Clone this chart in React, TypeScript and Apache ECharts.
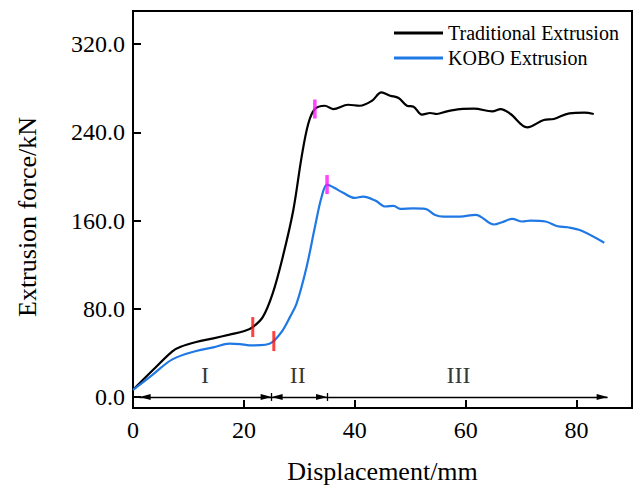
import React, { useEffect, useRef } from "react";
import * as echarts from "echarts";

// ---- data ----
const traditionalExtrusion: [number, number][] = [
  [0, 6.5], [3.5, 24], [7.1, 41.4], [8.6, 45.5], [11.4, 49.8], [14.5, 53.2],
  [17.4, 56.5], [20.1, 59.8], [21.6, 63.4], [23.4, 72.4], [25.2, 94],
  [27.0, 126.8], [28.9, 169.1], [30.4, 217.3], [31.6, 247.6], [32.8, 261.1],
  [34.6, 264.1], [36.1, 261.1], [38.8, 265.0], [40.9, 264.1], [43.1, 268.6],
  [44.8, 276.2], [46.4, 273.2], [47.9, 271.1], [49.4, 264.1], [50.6, 263.2],
  [52.1, 256.0], [53.6, 257.5], [54.8, 256.6], [56.6, 259.0], [59.0, 261.1],
  [61.5, 261.5], [64.8, 259.0], [66.3, 261.1], [68.1, 256.6], [71.1, 244.5],
  [74.1, 251.2], [75.9, 252.1], [78.7, 257.2], [81.4, 257.8], [83.1, 256.6],
];

const koboExtrusion: [number, number][] = [
  [0, 6.5], [3.5, 20], [7.1, 34.1], [11.4, 41.7], [14.5, 45], [17.4, 48.3],
  [19.3, 48.0], [21.0, 46.8], [23.0, 47.0], [24.6, 48.3], [25.5, 51.3],
  [27.0, 60.4], [28.3, 72.4], [29.5, 84.6], [31.3, 117.7], [32.8, 153.9],
  [34.0, 181.1], [35.0, 192.6], [36.1, 190.2], [37.9, 185.1], [40.0, 180.5],
  [41.5, 181.7], [43.7, 178.1], [45.5, 172.7], [47.0, 173.3], [48.2, 170.6],
  [50.5, 171.0], [52.7, 170.6], [54.5, 165.0], [56.0, 163.5], [59.0, 163.6],
  [61.8, 165.2], [65.1, 156.4], [66.6, 158.5], [68.4, 161.5], [70.2, 159.1],
  [71.7, 160.0], [74.4, 159.1], [76.6, 154.8], [78.4, 153.9], [80.8, 150.9],
  [85.0, 139.8],
];

const redMarkers: [number, number][] = [[21.6, 63.4], [25.4, 50.7]];
const magentaMarkers: [number, number][] = [[32.8, 261.1], [35.0, 192.6]];

const stageBounds = [1.2, 25, 35, 85.6];
const stageLabels: [number, number, string][] = [
  [13, 19.6, "I"], [29.7, 19.6, "II"], [58.7, 19.6, "III"],
];

const xTicks = [0, 20, 40, 60, 80];
const yTicks = [0, 80, 160, 240, 320];
const seriesNames = ["Traditional Extrusion", "KOBO Extrusion"];

const FONT = "'Liberation Serif', 'Times New Roman', serif";

export default function App() {
  const ref = useRef<HTMLDivElement>(null);
  useEffect(() => {
    if (!ref.current) return;
    const chart = echarts.init(ref.current, undefined, { renderer: "svg" });
    const arrowSym = { symbol: "triangle", symbolSize: [6, 11], symbolOffset: [0, 5.5] };
    const noSym = { symbol: "none" };
    const option: any = {
      animation: false,
      backgroundColor: "#fff",
      textStyle: { fontFamily: FONT },
      grid: {
        left: 133, right: 4, top: 11, bottom: 81,
        show: true, borderColor: "#000", borderWidth: 2,
      },
      legend: {
        data: seriesNames,
        orient: "vertical",
        left: 394, top: 23,
        padding: 0, itemGap: 5,
        icon: "rect", itemWidth: 49, itemHeight: 3,
        textStyle: { fontFamily: FONT, fontSize: 20, color: "#000" },
      },
      xAxis: {
        type: "value", min: 0, max: 90,
        name: "Displacement/mm", nameLocation: "middle", nameGap: 50,
        nameTextStyle: { fontFamily: FONT, fontSize: 26, color: "#000" },
        axisLine: { show: true, onZero: false, lineStyle: { color: "#000", width: 2 } },
        axisTick: { show: true, inside: true, length: 8, customValues: xTicks, lineStyle: { color: "#000", width: 2 } },
        axisLabel: { customValues: xTicks, fontFamily: FONT, fontSize: 24, color: "#000", margin: 10 },
        splitLine: { show: false },
      },
      yAxis: {
        type: "value", min: -10, max: 350,
        name: "Extrusion force/kN", nameLocation: "middle", nameGap: 93,
        nameTextStyle: { fontFamily: FONT, fontSize: 26, color: "#000", padding: [0, 15, 0, 0] },
        axisLine: { show: true, onZero: false, lineStyle: { color: "#000", width: 2 } },
        axisTick: { show: true, inside: true, length: 8, customValues: yTicks, lineStyle: { color: "#000", width: 2 } },
        axisLabel: {
          customValues: yTicks, fontFamily: FONT, fontSize: 24, color: "#000", margin: 8,
          formatter: (v: number) => v.toFixed(1),
        },
        splitLine: { show: false },
      },
      series: [
        {
          name: seriesNames[0], type: "line", data: traditionalExtrusion,
          showSymbol: false, smooth: 0.35,
          color: "#000", lineStyle: { color: "#000", width: 2.2 }, z: 3,
        },
        {
          name: seriesNames[1], type: "line", data: koboExtrusion,
          showSymbol: false, smooth: 0.35,
          color: "#1f78e4", lineStyle: { color: "#1f78e4", width: 2.2 }, z: 3,
        },
        {
          type: "scatter", data: redMarkers, symbol: "rect", symbolSize: [3, 20],
          itemStyle: { color: "#ff1010" }, z: 5, silent: true,
        },
        {
          type: "scatter", data: magentaMarkers, symbol: "rect", symbolSize: [3.5, 19],
          itemStyle: { color: "#ff14ff" }, z: 5, silent: true,
        },
        {
          type: "line", data: [], silent: true,
          markLine: {
            silent: true, animation: false,
            label: { show: false },
            lineStyle: { color: "#000", width: 1.3, type: "solid" },
            emphasis: { disabled: true },
            data: [
              [{ coord: [stageBounds[0], 0], ...arrowSym }, { coord: [stageBounds[1], 0], ...arrowSym }],
              [{ coord: [stageBounds[1], 0], ...arrowSym }, { coord: [stageBounds[2], 0], ...arrowSym }],
              [{ coord: [stageBounds[2], 0], ...noSym }, { coord: [stageBounds[3], 0], ...arrowSym }],
              [{ coord: [stageBounds[1], -3.6], ...noSym }, { coord: [stageBounds[1], 3.6], ...noSym }],
              [{ coord: [stageBounds[2], -3.6], ...noSym }, { coord: [stageBounds[2], 3.6], ...noSym }],
            ],
          },
        },
        {
          type: "scatter", data: stageLabels, symbolSize: 1, silent: true,
          itemStyle: { color: "transparent" },
          label: {
            show: true, position: "inside",
            formatter: (p: any) => p.data[2],
            fontFamily: FONT, fontSize: 24, color: "#000",
          },
        },
      ],
    };
    chart.setOption(option);
    return () => chart.dispose();
  }, []);
  return <div ref={ref} style={{ width: 636, height: 489, position: "absolute", left: 0, top: 0 }} />;
}
